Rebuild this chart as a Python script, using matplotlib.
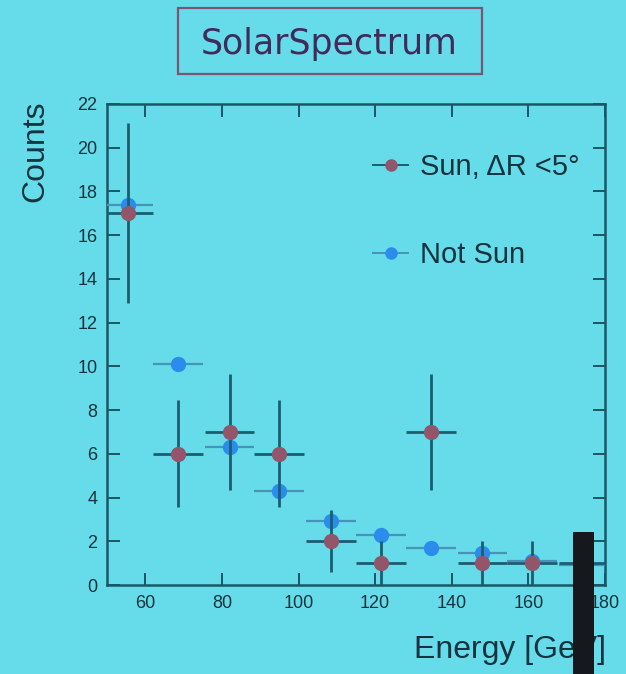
import matplotlib
matplotlib.use("Agg")
import matplotlib.pyplot as plt
from matplotlib.lines import Line2D
from matplotlib.patches import Rectangle

####################################### data #######################################
# energy bin centres [GeV] and half width of a bin
energy = [55.5, 68.5, 82, 95, 108.5, 121.5, 134.5, 148, 161, 174.5]
binHalfWidth = 6.5

# counts inside the sun cone, errors are sqrt(N)
sunCounts = [17, 6, 7, 6, 2, 1, 7, 1, 1, 1]
sunErrors = [4.12, 2.45, 2.65, 2.45, 1.41, 1.0, 2.65, 1.0, 1.0, 1.0]

# scaled background (off source), tiny errors
notSunCounts = [17.4, 10.1, 6.3, 4.3, 2.95, 2.3, 1.7, 1.45, 1.1, 0.9]
notSunErrors = [0.2, 0.15, 0.12, 0.1, 0.08, 0.07, 0.06, 0.06, 0.05, 0.05]

xTicks = [60, 80, 100, 120, 140, 160, 180]
yTicks = [0, 2, 4, 6, 8, 10, 12, 14, 16, 18, 20, 22]

sunLabel = "Sun, \u0394R <5\u00b0"
notSunLabel = "Not Sun"
#######################################################################################################

plt.rcParams["font.family"] = ["Liberation Sans", "DejaVu Sans"]

# colours of the projected slide
background = "#66dbe9"
axisColour = "#1b5666"
textColour = "#15343f"
sunColour = "#93556a"
notSunColour = "#2b8cec"
sunBarColour = "#1b5e6f"
notSunBarColour = "#4a93b8"

W, H = 626, 674
fig = plt.figure(figsize=(W / 100, H / 100), dpi=100, facecolor=background)
ax = fig.add_axes([107 / W, 1 - 585 / H, 498 / W, 481 / H], facecolor=background)

# background first, sun drawn on top of it
ax.errorbar(energy, notSunCounts, xerr=binHalfWidth, yerr=notSunErrors, fmt="o",
            color=notSunColour, ecolor=notSunBarColour, elinewidth=1.6, ms=10,
            capsize=0, zorder=3)
ax.errorbar(energy, sunCounts, xerr=binHalfWidth, yerr=sunErrors, fmt="o",
            color=sunColour, ecolor=sunBarColour, elinewidth=2.0, ms=10,
            capsize=0, zorder=4)

ax.set_xlim(50, 180)
ax.set_ylim(0, 22)
ax.set_xticks(xTicks)
ax.set_yticks(yTicks)
ax.tick_params(direction="in", top=True, right=True, length=9, width=1.4,
               color=axisColour, labelsize=13, labelcolor=textColour, pad=7)
for spine in ax.spines.values():
    spine.set_color(axisColour)
    spine.set_linewidth(1.8)

# legend: marker with a short line through it
handles = [Line2D([], [], color=sunBarColour, lw=1.4, marker="o", ms=8,
                  markerfacecolor=sunColour, markeredgecolor=sunColour),
           Line2D([], [], color=notSunBarColour, lw=1.4, marker="o", ms=8,
                  markerfacecolor=notSunColour, markeredgecolor=notSunColour)]
leg = ax.legend(handles, [sunLabel, notSunLabel], loc="upper left",
                bbox_to_anchor=(373 / W, 1 - 153 / H), bbox_transform=fig.transFigure,
                frameon=False, fontsize=21, labelspacing=2.05, handlelength=1.2,
                handletextpad=0.4, borderpad=0, borderaxespad=0)
for t in leg.get_texts():
    t.set_color(textColour)

# axis titles
fig.text(35 / W, 1 - 100 / H, "Counts", rotation=90, ha="center", va="top",
         fontsize=23, color=textColour)
fig.text(606 / W, 1 - 650 / H, "Energy [GeV]", ha="right", va="center",
         fontsize=23, color=textColour)

# boxed title
fig.patches.append(Rectangle((178 / W, 1 - 74 / H), 304 / W, 66 / H, fill=False,
                             edgecolor="#7d5472", lw=1.6, transform=fig.transFigure))
fig.text(329 / W, 1 - 44 / H, "SolarSpectrum", ha="center", va="center",
         fontsize=25, color="#3f2c5a", family="DejaVu Sans")

# the pointer standing in front of the screen
fig.patches.append(Rectangle((573 / W, 0), 21 / W, (H - 532) / H, facecolor="#15181d",
                             edgecolor="none", transform=fig.transFigure, zorder=10))

fig.savefig("out.png", dpi=100, facecolor=background)
